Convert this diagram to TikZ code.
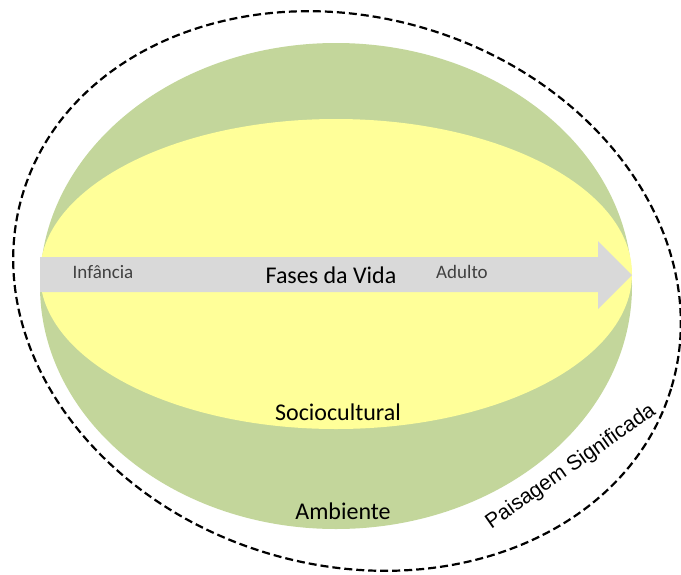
\documentclass[tikz,border=0pt]{standalone}
\usepackage{fontspec}
\setmainfont{Carlito}
\newfontfamily\arialfont{Liberation Sans}
\usetikzlibrary{shapes.geometric,positioning}
\definecolor{ambgreen}{HTML}{C3D69B}
\definecolor{socyellow}{HTML}{FFFF99}
\definecolor{arrowgray}{HTML}{D9D9D9}
\definecolor{phasetext}{HTML}{404040}

\begin{document}
\begin{tikzpicture}[x=1pt,y=-1pt]
    \tikzstyle{layer}=[ellipse,inner sep=0pt,outer sep=0pt]
    \tikzstyle{big label}=[font=\fontsize{24}{28}\selectfont,inner sep=0pt]
    \tikzstyle{phase label}=[font=\fontsize{19}{22}\selectfont,text=phasetext,inner sep=0pt]
    \useasboundingbox (0,0) rectangle (681,574);

    % Draw the environment and sociocultural layers
    \node[layer,fill=ambgreen,minimum width=592pt,minimum height=486pt] (amb) at (336,286) {};
    \node[layer,fill=socyellow,minimum width=592pt,minimum height=310pt] (soc) at (336,274) {};

    % Life phases arrow
    \fill[arrowgray] (40,257) -- (598,257) -- (598,241) -- (632,275)
        -- (598,309) -- (598,292) -- (40,292) -- cycle;

    % Labels
    \node[big label] (fases) at (331,275) {Fases da Vida};
    \node[phase label] (inf) at (103,272) {Infância};
    \node[phase label] (adu) at (462,272) {Adulto};
    \node[big label] (socl) at (338,412) {Sociocultural};
    \node[big label] (ambl) at (343,511) {Ambiente};

    % Outer dashed landscape
    \node[layer,draw,line width=2.2pt,dash pattern=on 8pt off 4pt,rotate=-16.5,
        minimum width=677pt,minimum height=548pt] (pais) at (347,291) {};
    \node[font=\arialfont\fontsize{21}{25}\selectfont,rotate=35,inner sep=0pt] (paisl) at (571,467) {Paisagem Significada};
\end{tikzpicture}
\end{document}
